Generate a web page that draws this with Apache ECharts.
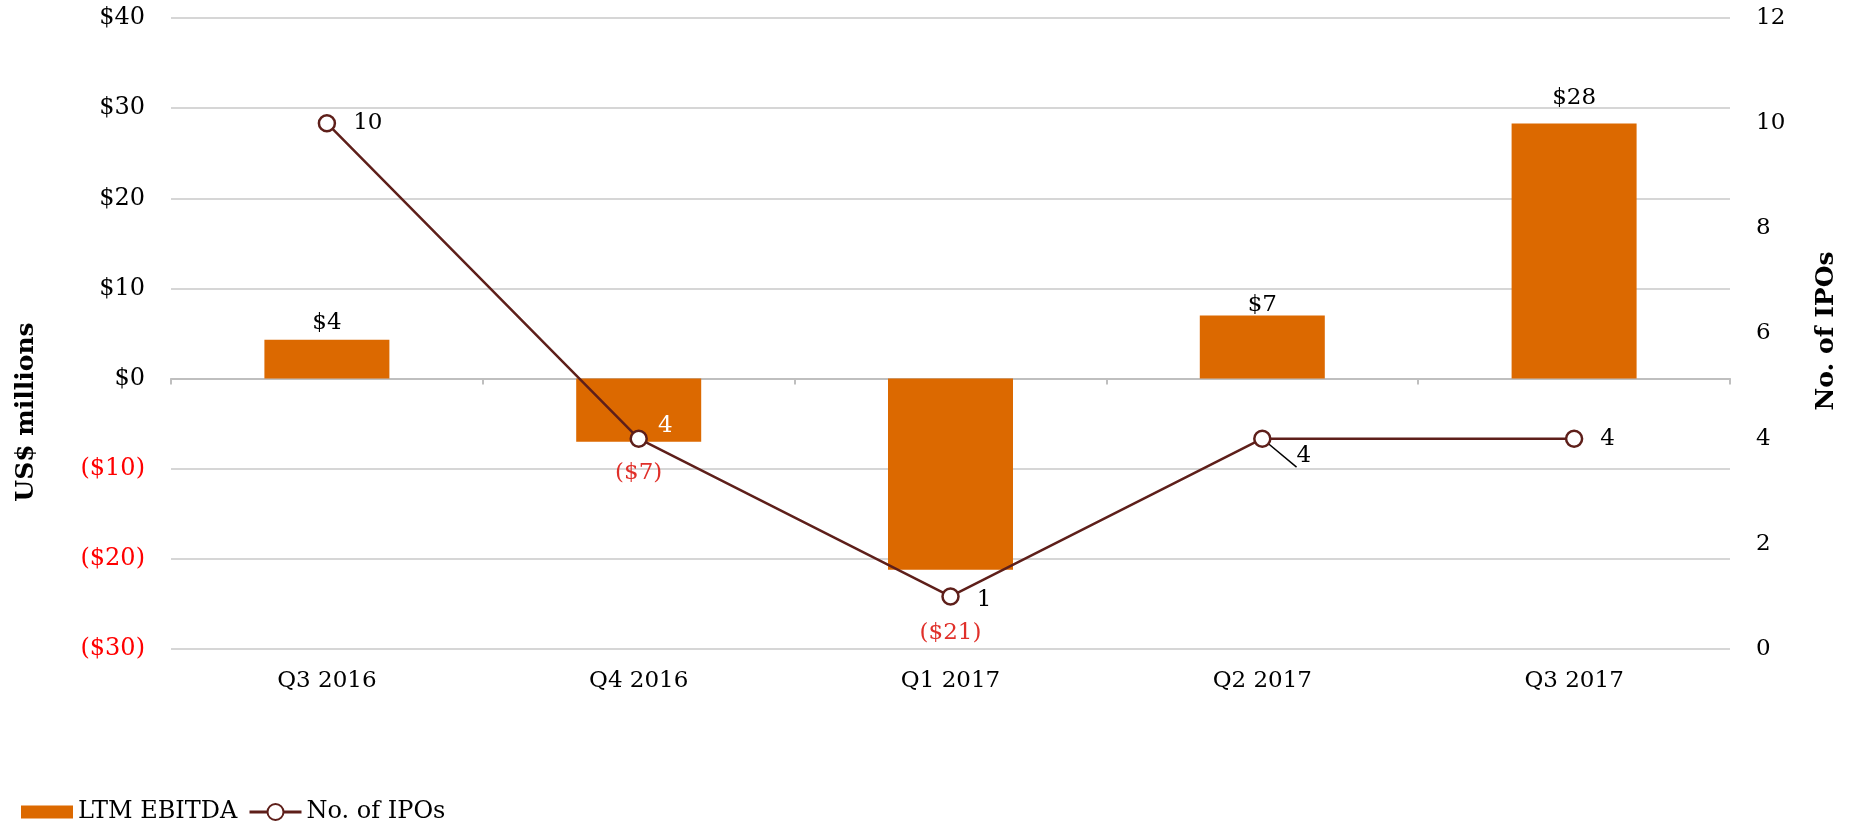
<!DOCTYPE html>
<html>
<head>
<meta charset="utf-8">
<script src="https://cdn.jsdelivr.net/npm/echarts@6/dist/echarts.min.js"></script>
<style>
  html, body { margin: 0; padding: 0; background: #fff; }
  #chart { width: 1854px; height: 822px; }
</style>
</head>
<body>
<div id="chart"></div>
<script>
// chart data
var quarters = ['Q3 2016', 'Q4 2016', 'Q1 2017', 'Q2 2017', 'Q3 2017'];
var ebitda = [4.3, -7.0, -21.2, 7.0, 28.3];
var ipoCount = [10, 4, 1, 4, 4];
var leftTicks = { min: -30, max: 40, interval: 10 };
var rightTicks = { min: 0, max: 12, interval: 2 };

var FONT = "'DejaVu Serif', 'Liberation Serif', serif";
var barColor = '#DC6900';
var lineColor = '#5E1F1A';

function money(v) {
    var r = Math.round(Math.abs(v));
    return v < 0 ? '($' + r + ')' : '$' + r;
}

// label nudges, per quarter
var barLabelOffsets = [[0, 0], [0, 15], [0, 47], [0, 6], [0, -9]];
var lineLabelOffsets = [[0, 0], [-7, -13], [0, 4], [8, 17], [0, 0]];

var barData = ebitda.map(function (v, i) {
    return {
        value: v,
        label: {
            position: v < 0 ? 'bottom' : 'top',
            color: v < 0 ? '#E0302A' : '#000',
            offset: barLabelOffsets[i]
        }
    };
});

var lineData = ipoCount.map(function (v, i) {
    var item = {
        value: v,
        label: { offset: lineLabelOffsets[i] }
    };
    if (i === 1) item.label.color = '#fff';
    if (i === 3) item.labelLine = { show: true, lineStyle: { color: '#000', width: 1.5 } };
    return item;
});

var legendText = { fontFamily: FONT, fontSize: 24, color: '#000' };

var chart = echarts.init(document.getElementById('chart'));
chart.setOption({
    animation: false,
    textStyle: { fontFamily: FONT },
    grid: { left: 171, right: 124, top: 18, bottom: 173 },
    legend: [
        {
            left: 16,
            top: 795,
            icon: 'rect',
            itemWidth: 52,
            itemHeight: 13,
            textStyle: legendText,
            data: ['LTM EBITDA']
        },
        {
            left: 243,
            top: 795,
            itemWidth: 52,
            itemHeight: 20,
            lineStyle: { width: 3 },
            textStyle: legendText,
            data: ['No. of IPOs']
        }
    ],
    graphic: [
        {
            type: 'text', x: 26, y: 412, rotation: Math.PI / 2,
            style: { text: 'US$ millions', align: 'center', verticalAlign: 'middle',
                font: 'bold 25px ' + FONT, fill: '#000' }
        },
        {
            type: 'text', x: 1826, y: 331, rotation: Math.PI / 2,
            style: { text: 'No. of IPOs', align: 'center', verticalAlign: 'middle',
                font: 'bold 25px ' + FONT, fill: '#000' }
        }
    ],
    xAxis: [
        {
            type: 'category',
            data: quarters,
            position: 'bottom',
            axisLine: { show: false, onZero: false },
            axisTick: { show: false },
            axisLabel: { margin: 21, fontSize: 23, color: '#000', fontFamily: FONT }
        },
        {
            type: 'category',
            data: quarters,
            position: 'bottom',
            axisLine: { show: true, onZero: true, onZeroAxisIndex: 0,
                lineStyle: { color: '#BFBFBF', width: 2 } },
            axisTick: { show: true, length: 6, lineStyle: { color: '#BFBFBF', width: 2 } },
            axisLabel: { show: false }
        }
    ],
    yAxis: [
        {
            type: 'value',
            min: leftTicks.min,
            max: leftTicks.max,
            interval: leftTicks.interval,
            axisLine: { show: false },
            axisTick: { show: false },
            splitLine: { lineStyle: { color: '#C8C8C8', width: 1.5 } },
            axisLabel: {
                margin: 26,
                fontSize: 24,
                fontFamily: FONT,
                formatter: function (v) { return money(v); },
                color: function (v) { return Number(v) < 0 ? '#FF0000' : '#000'; }
            }
        },
        {
            type: 'value',
            min: rightTicks.min,
            max: rightTicks.max,
            interval: rightTicks.interval,
            axisLine: { show: false },
            axisTick: { show: false },
            splitLine: { show: false },
            axisLabel: { margin: 26, fontSize: 23, color: '#000', fontFamily: FONT }
        }
    ],
    series: [
        {
            name: 'LTM EBITDA',
            type: 'bar',
            xAxisIndex: 0,
            yAxisIndex: 0,
            barWidth: 125,
            itemStyle: { color: barColor },
            label: {
                show: true,
                distance: 5,
                fontSize: 23,
                fontFamily: FONT,
                formatter: function (p) { return money(p.value); }
            },
            data: barData
        },
        {
            name: 'No. of IPOs',
            type: 'line',
            xAxisIndex: 0,
            yAxisIndex: 1,
            symbol: 'circle',
            symbolSize: 16,
            lineStyle: { color: lineColor, width: 2.5 },
            itemStyle: { color: '#fff', borderColor: lineColor, borderWidth: 2.5 },
            label: {
                show: true,
                position: 'right',
                distance: 17,
                fontSize: 23,
                fontFamily: FONT,
                color: '#000'
            },
            data: lineData,
            z: 3
        }
    ]
});
</script>
</body>
</html>
